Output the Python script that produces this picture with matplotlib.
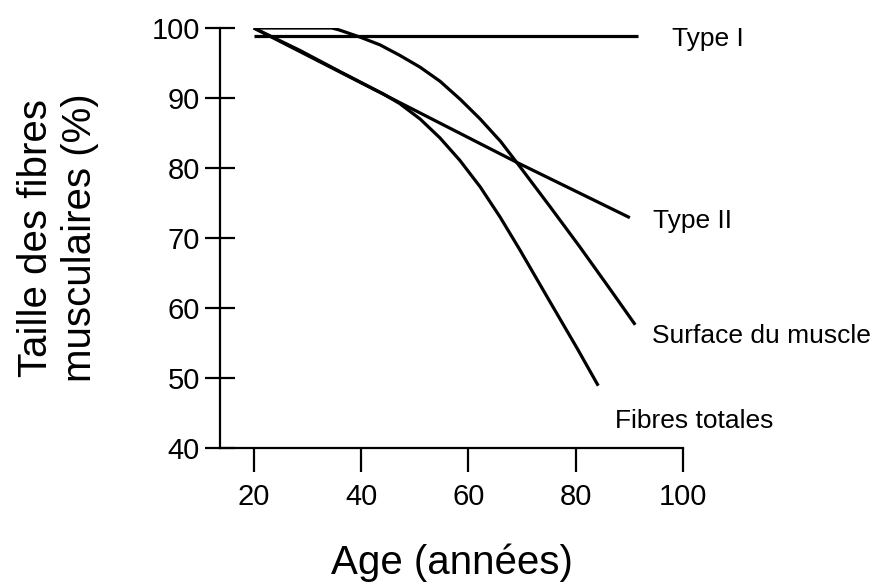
import matplotlib
matplotlib.use("Agg")
import matplotlib.pyplot as plt

plt.rcParams['font.family'] = ['Liberation Sans', 'DejaVu Sans']

# courbes (age, % de taille)
type1_age = [20, 91.6]
type1_val = [98.8, 98.8]

type2_age = [20, 44.0, 69.3, 90.1]
type2_val = [100, 90.6, 80.7, 72.9]

surface_age = [20, 34.6, 36.0, 39.8, 43.5, 47.2, 51.0, 54.7, 58.5, 62.2, 66.0, 69.6, 75.2, 80.8, 86.4, 91.1]
surface_val = [100, 100, 99.7, 98.7, 97.6, 96.1, 94.4, 92.4, 89.8, 87.0, 83.8, 80.2, 74.5, 68.7, 62.7, 57.6]

fibres_age = [20, 28.6, 36.0, 44.1, 47.2, 51.0, 54.7, 58.4, 62.2, 65.9, 69.6, 75.2, 80.3, 84.2]
fibres_val = [100, 96.8, 93.8, 90.6, 89.2, 87.0, 84.3, 81.1, 77.3, 73.0, 68.3, 60.9, 54.2, 48.9]

labels = ['Type I', 'Type II', 'Surface du muscle', 'Fibres totales']
label_x = [98.0, 94.4, 94.3, 87.4]
label_y = [98.4, 72.4, 56.0, 43.9]

fig = plt.figure(figsize=(8.79, 5.86), dpi=100)
ax = fig.add_axes([0.2503, 0.2355, 0.5267, 0.7167])

lw = 2.3
ax.plot(type1_age, type1_val, color='black', lw=lw, solid_capstyle='butt')
ax.plot(type2_age, type2_val, color='black', lw=lw, solid_capstyle='butt')
ax.plot(surface_age, surface_val, color='black', lw=lw, solid_capstyle='butt')
ax.plot(fibres_age, fibres_val, color='black', lw=lw, solid_capstyle='butt')

for t, x, y in zip(labels, label_x, label_y):
    ax.text(x, y, t, fontsize=19, ha='left', va='center', clip_on=False)

ax.set_xlim(13.7, 100)
ax.set_ylim(40, 100)
ax.set_xticks([20, 40, 60, 80, 100])
ax.set_yticks([40, 50, 60, 70, 80, 90, 100])

ax.spines['top'].set_visible(False)
ax.spines['right'].set_visible(False)
ax.spines['left'].set_linewidth(1.6)
ax.spines['bottom'].set_linewidth(1.6)

ax.tick_params(axis='x', direction='out', length=17, width=1.6, pad=8, labelsize=21)
ax.tick_params(axis='y', direction='inout', length=21, width=1.6, pad=4, labelsize=21)

ax.set_xlabel('Age (années)', fontsize=29)
ax.xaxis.set_label_coords(0.5, -0.228)
ax.set_ylabel('Taille des fibres\nmusculaires (%)', fontsize=29)
ax.yaxis.set_label_coords(-0.262, 0.5)

fig.savefig('out.png', dpi=100)
